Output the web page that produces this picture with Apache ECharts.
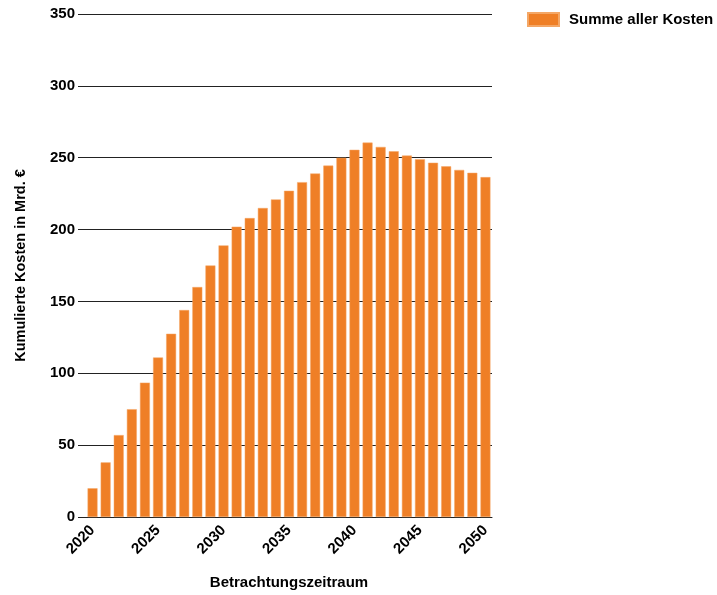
<!DOCTYPE html>
<html>
<head>
<meta charset="utf-8">
<script src="https://cdn.jsdelivr.net/npm/echarts@6/dist/echarts.min.js"></script>
<style>html,body{margin:0;padding:0;background:#fff}#c{width:717px;height:595px}</style>
</head>
<body>
<div id="c"></div>
<script>
const years = ['2020','2021','2022','2023','2024','2025','2026','2027','2028','2029','2030','2031','2032','2033','2034','2035','2036','2037','2038','2039','2040','2041','2042','2043','2044','2045','2046','2047','2048','2049','2050'];
const kosten = [20, 38, 57, 75, 93.5, 111, 127.5, 144, 160, 175, 189, 202, 208, 215, 221, 227, 233, 239, 244.5, 250, 255.5, 260.5, 257.5, 254.5, 251.5, 249, 246.5, 244, 241.5, 239.5, 236.5];
const seriesName = 'Summe aller Kosten';
const yTitle = 'Kumulierte Kosten in Mrd. €';
const xTitle = 'Betrachtungszeitraum';

const font = 'Liberation Sans, Arial, sans-serif';
const chart = echarts.init(document.getElementById('c'), null, {renderer: 'canvas'});
chart.setOption({
  animation: false,
  textStyle: {fontFamily: font},
  legend: {
    left: 522, top: 7, itemWidth: 31, itemHeight: 13, itemGap: 10, icon: 'rect',
    textStyle: {fontFamily: font, fontSize: 15, fontWeight: 'bold', color: '#000', padding: [0, 0, 0, 5]},
    data: [seriesName]
  },
  grid: {left: 86, right: 225, top: 14, bottom: 78, containLabel: false},
  xAxis: {
    type: 'category', data: years,
    name: xTitle, nameLocation: 'middle', nameGap: 58,
    nameTextStyle: {fontFamily: font, fontSize: 15, fontWeight: 'bold', color: '#000'},
    axisLine: {lineStyle: {color: '#222', width: 1}},
    axisTick: {inside: true, length: 5, interval: 4, alignWithLabel: true, lineStyle: {color: '#222'}},
    axisLabel: {interval: 4, rotate: 45, margin: 11, fontFamily: font, fontSize: 15, fontWeight: 'bold', color: '#000'}
  },
  yAxis: {
    type: 'value', min: 0, max: 350, interval: 50,
    name: yTitle, nameLocation: 'middle', nameGap: 58, nameRotate: 90,
    nameTextStyle: {fontFamily: font, fontSize: 14.5, fontWeight: 'bold', color: '#000'},
    axisLine: {show: false},
    axisTick: {show: true, length: 8, lineStyle: {color: '#222'}},
    axisLabel: {margin: 11, fontFamily: font, fontSize: 15, fontWeight: 'bold', color: '#000'},
    splitLine: {lineStyle: {color: '#222', width: 1}}
  },
  series: [{
    name: seriesName, type: 'bar', data: kosten,
    barCategoryGap: '24%',
    itemStyle: {color: '#EF7F26', borderColor: '#F4A766', borderWidth: 0.5}
  }]
});
</script>
</body>
</html>
